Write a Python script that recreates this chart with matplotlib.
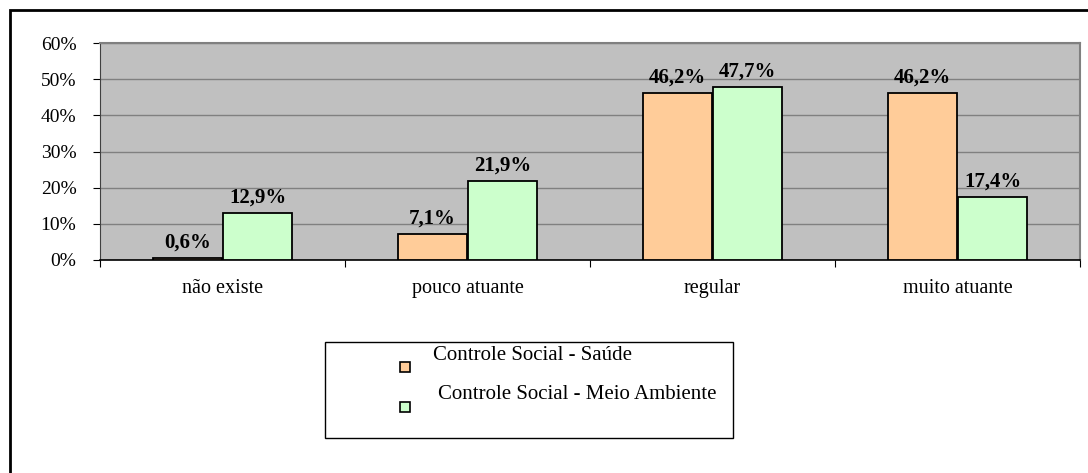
import matplotlib.pyplot as plt
import numpy as np
from matplotlib.patches import Rectangle

# categorias e percentuais por tipo de controle social
categorias = ["não existe", "pouco atuante", "regular", "muito atuante"]
saude = [0.6, 7.1, 46.2, 46.2]
meio_ambiente = [12.9, 21.9, 47.7, 17.4]
series_nomes = ["Controle Social - Saúde", "Controle Social - Meio Ambiente"]
yticks = [0, 10, 20, 30, 40, 50, 60]

cor_saude = "#FFCC99"
cor_meio = "#CCFFCC"

plt.rcParams['font.family'] = ['Liberation Serif', 'DejaVu Serif']

fig = plt.figure(figsize=(10.88, 4.73), dpi=100)
ax = fig.add_axes([100 / 1088, 1 - 260 / 473, 980 / 1088, 217 / 473])
ax.set_facecolor("#C0C0C0")

x = np.arange(len(categorias))
w = 0.28
gap = 0.004
b1 = ax.bar(x - w / 2 - gap, saude, w, color=cor_saude, edgecolor="black", linewidth=1.3, zorder=3)
b2 = ax.bar(x + w / 2 + gap, meio_ambiente, w, color=cor_meio, edgecolor="black", linewidth=1.3, zorder=3)

for bars, vals in ((b1, saude), (b2, meio_ambiente)):
    for r, v in zip(bars, vals):
        ax.annotate(f"{v:.1f}%".replace(".", ","),
                    (r.get_x() + r.get_width() / 2, v),
                    xytext=(0, 4), textcoords="offset points",
                    ha="center", va="bottom", fontsize=15, fontweight="bold")

ax.set_xlim(-0.5, len(categorias) - 0.5)
ax.set_ylim(0, 60)
ax.set_yticks(yticks)
ax.set_yticklabels([f"{t}%" for t in yticks], fontsize=14)
ax.yaxis.grid(True, color="#808080", linewidth=1, zorder=0)
ax.set_axisbelow(True)

# marcas do eixo x nos limites entre categorias, rótulos no centro
ax.set_xticks(np.arange(len(categorias) + 1) - 0.5)
ax.set_xticklabels([])
ax.set_xticks(x, minor=True)
ax.set_xticklabels(categorias, minor=True, fontsize=14.5)
ax.tick_params(axis="x", which="minor", length=0, pad=14)
ax.tick_params(axis="x", which="major", length=5, direction="out", color="black")
ax.tick_params(axis="y", length=5, direction="out", color="black", pad=12)

for s in ("top", "right"):
    ax.spines[s].set_color("#808080")
    ax.spines[s].set_linewidth(1.5)
ax.spines["left"].set_color("#404040")
ax.spines["bottom"].set_color("black")
ax.spines["bottom"].set_linewidth(1.2)

# moldura externa do gráfico
fig.add_artist(Rectangle((10 / 1088, -0.1), 1.2, 1 - 10 / 473 + 0.1,
                         transform=fig.transFigure, fill=False,
                         edgecolor="black", linewidth=2))

# legenda
fig.add_artist(Rectangle((325 / 1088, 1 - 438 / 473), 408 / 1088, 96 / 473,
                         transform=fig.transFigure, fill=False,
                         edgecolor="black", linewidth=1))
itens = [(cor_saude, series_nomes[0], 367, 355, 433),
         (cor_meio, series_nomes[1], 407, 394, 438)]
for cor, nome, ym, yt, xt in itens:
    fig.add_artist(Rectangle((400 / 1088, 1 - (ym + 5) / 473), 10 / 1088, 10 / 473,
                             transform=fig.transFigure, facecolor=cor,
                             edgecolor="black", linewidth=1.2))
    fig.text(xt / 1088, 1 - yt / 473, nome, fontsize=15, va="center", ha="left")

fig.savefig("out.png", dpi=100)
